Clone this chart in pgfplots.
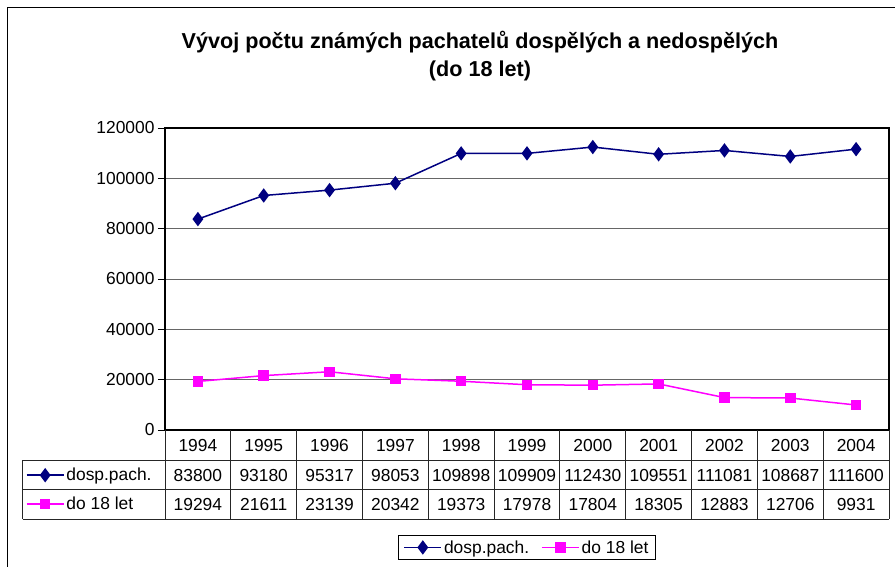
\documentclass[border=0pt]{standalone}
\usepackage{pgfplots}
\pgfplotsset{compat=1.18}
\usepackage{fontspec}
\setmainfont{Liberation Sans}
\definecolor{navy}{RGB}{0,0,128}
\definecolor{mag}{RGB}{255,0,255}
\newcommand\fs{\fontsize{17.4}{20}\selectfont}
\pgfplotsset{
  keyimg/.style={legend image code/.code={\draw[mark repeat=2,mark phase=2] plot coordinates {(0pt,0pt)(18.5pt,0pt)(37pt,0pt)};}},
  s1/.style={navy, line width=1.5pt, mark=diamond*, mark size=6pt, mark options={fill=navy,draw=navy}},
  s2/.style={mag, line width=1.5pt, mark=square*, mark size=4.5pt, mark options={fill=mag,draw=mag}},
}
\begin{document}
\begin{tikzpicture}[font=\fs]
\useasboundingbox (0pt,0pt) rectangle (895pt,567pt);
\draw[line width=1pt] (7pt,-5pt) -- (7pt,559pt) -- (900pt,559pt);
\node[align=center,font=\bfseries\fontsize{21.6}{28}\selectfont] at (480pt,511pt) {Vývoj počtu známých pachatelů dospělých a nedospělých\\(do 18 let)};
\begin{axis}[
  at={(165pt,137pt)}, anchor=south west, scale only axis,
  width=724pt, height=302pt,
  xmin=-0.5, xmax=10.5, ymin=0, ymax=120000,
  ytick={0,20000,...,120000}, xtick=\empty,
  ymajorgrids, grid style={black!60, line width=0.8pt},
  axis line style={line width=1.2pt},
  ytick pos=left, tick align=outside, major tick length=7pt,
  y tick style={black, line width=0.8pt},
  scaled y ticks=false,
  yticklabel style={font=\fs, /pgf/number format/fixed, /pgf/number format/1000 sep={}, /pgf/number format/assume math mode=true},
  keyimg,
  legend columns=2,
  legend style={at={(0.5,-0.389)}, anchor=center, draw=black, line width=0.8pt, font=\fs, inner xsep=5pt, inner ysep=3pt,
    /tikz/every even column/.append style={column sep=10pt}},
]
\addplot[s1] coordinates {(0,83800)(1,93180)(2,95317)(3,98053)(4,109898)(5,109909)(6,112430)(7,109551)(8,111081)(9,108687)(10,111600)};
\addlegendentry{dosp.pach.}
\addplot[s2] coordinates {(0,19294)(1,21611)(2,23139)(3,20342)(4,19373)(5,17978)(6,17804)(7,18305)(8,12883)(9,12706)(10,9931)};
\addlegendentry{do 18 let}
\end{axis}
\begin{axis}[
  at={(165pt,137pt)}, anchor=south west, scale only axis,
  width=724pt, height=302pt, hide axis,
  xmin=0, xmax=1, ymin=0, ymax=1,
  keyimg, legend cell align=left,
  legend style={at={(-0.1965,-0.101)}, anchor=north west, draw=none, fill=none,
    inner xsep=3pt, inner ysep=0pt, row sep=0pt, font=\fs,
    nodes={inner sep=2pt, minimum height=29pt}},
]
\addlegendimage{s1}
\addlegendentry{dosp.pach.}
\addlegendimage{s2}
\addlegendentry{do 18 let}
\end{axis}
% data table grid
\def\cw{65.82}
\begin{scope}[x=1pt, y=1pt]
\begin{scope}[line width=0.9pt, black!85]
\foreach \k in {0,...,11} {\draw ({165+\cw*\k},137) -- ({165+\cw*\k},48);}
\draw (22.7,106.5) -- (889,106.5);
\draw (22.7,77.5) -- (889,77.5);
\draw (22.7,48) -- (889,48);
\draw (22.7,106.5) -- (22.7,48);
\end{scope}
\foreach \i/\yr/\a/\b in {0/1994/83800/19294,1/1995/93180/21611,2/1996/95317/23139,3/1997/98053/20342,4/1998/109898/19373,5/1999/109909/17978,6/2000/112430/17804,7/2001/109551/18305,8/2002/111081/12883,9/2003/108687/12706,10/2004/111600/9931} {
  \node[anchor=base, inner sep=0pt] at ({165+\cw*(\i+0.5)},115.8) {\yr};
  \node[anchor=base, inner sep=0pt] at ({165+\cw*(\i+0.5)},85.8) {\a};
  \node[anchor=base, inner sep=0pt] at ({165+\cw*(\i+0.5)},56.8) {\b};
}
\end{scope}
\end{tikzpicture}
\end{document}
